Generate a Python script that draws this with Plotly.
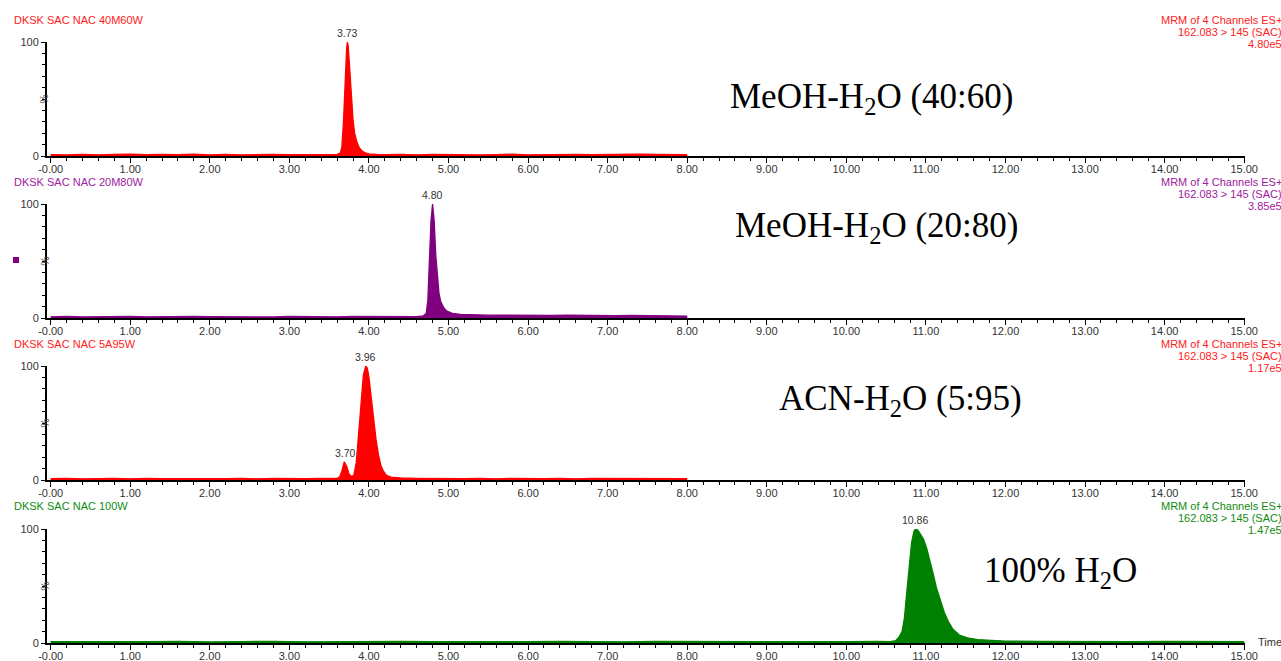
import plotly.graph_objects as go

# ---------------- data ----------------
x_tick_vals = list(range(0, 16))
x_tick_text = ["-0.00"] + ["%d.00" % v for v in range(1, 16)]

headers = ["DKSK SAC NAC 40M60W", "DKSK SAC NAC 20M80W", "DKSK SAC NAC 5A95W", "DKSK SAC NAC 100W"]
channel_line1 = "MRM of 4 Channels ES+"
channel_line2 = "162.083 > 145 (SAC)"
intensities_max = ["4.80e5", "3.85e5", "1.17e5", "1.47e5"]
solvents = ["MeOH-H<sub>2</sub>O (40:60)", "MeOH-H<sub>2</sub>O (20:80)",
            "ACN-H<sub>2</sub>O (5:95)", "100% H<sub>2</sub>O"]
colors = ["#ff0000", "#800080", "#ff0000", "#008000"]
header_colors = ["#ff1a1a", "#a020a0", "#ff1a1a", "#108c10"]

t1 = [0.00, 0.20, 0.40, 0.60, 0.80, 1.00, 1.20, 1.40, 1.60, 1.80, 2.00, 2.20, 2.40, 2.60, 2.80, 3.00, 3.20, 3.40, 3.60,
      3.64, 3.66, 3.68, 3.70, 3.72, 3.73, 3.74, 3.76, 3.78, 3.80, 3.82, 3.85, 3.88, 3.92, 3.96, 4.00, 4.10,
      4.20, 4.40, 4.60, 4.80, 5.00, 5.20, 5.40, 5.60, 5.80, 6.00, 6.20, 6.40, 6.60, 6.80, 7.00, 7.20, 7.40, 7.60, 7.80, 8.00]
i1 = [1.2, 0.9, 1.4, 1.0, 1.3, 1.6, 1.1, 1.5, 1.2, 1.7, 1.0, 1.3, 0.9, 1.2, 1.4, 1.1, 1.3, 1.2, 1.5,
      2.5, 8, 30, 65, 95, 100, 96, 75, 50, 32, 20, 12, 7, 4, 2.5, 1.8, 1.4,
      1.2, 1.5, 1.0, 1.3, 1.1, 1.4, 0.9, 1.2, 1.6, 1.0, 1.3, 1.1, 1.5, 1.2, 1.4, 1.0, 1.6, 1.3, 1.1, 1.2]

t2 = [0.00, 0.20, 0.40, 0.60, 0.80, 1.00, 1.20, 1.40, 1.60, 1.80, 2.00, 2.20, 2.40, 2.60, 2.80, 3.00, 3.20, 3.40, 3.60,
      3.80, 4.00, 4.20, 4.40, 4.60,
      4.68, 4.72, 4.74, 4.76, 4.78, 4.80, 4.82, 4.84, 4.86, 4.88, 4.90, 4.94, 4.98, 5.05, 5.15,
      5.30, 5.50, 5.70, 5.90, 6.10, 6.30, 6.50, 6.70, 6.90, 7.10, 7.30, 7.50, 7.70, 8.00]
i2 = [1.0, 1.3, 0.9, 1.2, 1.1, 1.4, 1.0, 1.2, 0.8, 1.3, 1.1, 1.0, 1.4, 1.2, 0.9, 1.3, 1.1, 1.2, 1.0,
      1.4, 1.2, 1.1, 1.3, 1.2,
      1.8, 4, 15, 45, 85, 100, 85, 55, 35, 22, 15, 9, 6, 4, 3.2,
      2.8, 2.5, 2.6, 2.3, 2.5, 2.2, 2.4, 2.1, 2.3, 2.0, 2.2, 1.9, 1.8, 1.7]

t3 = [0.00, 0.20, 0.40, 0.60, 0.80, 1.00, 1.20, 1.40, 1.60, 1.80, 2.00, 2.20, 2.40, 2.60, 2.80, 3.00, 3.20, 3.40,
      3.50, 3.60, 3.63, 3.66, 3.69, 3.72, 3.75, 3.78, 3.81, 3.84, 3.87, 3.90, 3.93, 3.96, 3.98, 4.00, 4.03, 4.06,
      4.09, 4.12, 4.15, 4.18, 4.22, 4.28, 4.40,
      4.60, 4.80, 5.00, 5.20, 5.40, 5.60, 5.80, 6.00, 6.20, 6.40, 6.60, 6.80, 7.00, 7.20, 7.40, 7.60, 7.80, 8.00]
i3 = [1.1, 1.4, 0.9, 1.2, 1.3, 1.0, 1.5, 1.2, 1.1, 1.3, 0.9, 1.2, 1.4, 1.0, 1.3, 1.1, 1.2, 1.4,
      1.3, 1.5, 2.5, 8, 16, 12, 5, 3, 4, 15, 40, 70, 92, 100, 98, 90, 72, 52,
      35, 22, 13, 8, 4, 2.5, 1.8,
      1.4, 1.2, 1.5, 1.1, 1.3, 1.0, 1.4, 1.2, 1.1, 1.5, 1.0, 1.3, 1.2, 1.4, 1.1, 1.3, 1.0, 1.2]

t4 = [0.0, 0.4, 0.8, 1.2, 1.6, 2.0, 2.4, 2.8, 3.2, 3.6, 4.0, 4.4, 4.8, 5.2, 5.6, 6.0, 6.4, 6.8, 7.2, 7.6, 8.0,
      8.4, 8.8, 9.2, 9.6, 10.0, 10.4,
      10.55, 10.62, 10.66, 10.70, 10.73, 10.76, 10.79, 10.82, 10.85, 10.87, 10.90, 10.93, 10.97, 11.01, 11.05,
      11.09, 11.13, 11.18, 11.23, 11.28, 11.34, 11.42, 11.52, 11.65, 11.80, 12.00,
      12.4, 12.8, 13.2, 13.6, 14.0, 14.4, 14.8, 15.0]
i4 = [1.2, 1.0, 1.4, 1.1, 1.3, 0.9, 1.2, 1.5, 1.0, 1.3, 1.1, 1.4, 1.2, 1.0, 1.3, 1.1, 1.5, 1.2, 1.0, 1.3, 1.2,
      1.4, 1.1, 1.3, 1.0, 1.2, 1.3,
      1.2, 2, 5, 10, 22, 45, 70, 88, 98, 100, 99, 96, 91, 83, 73,
      61, 49, 37, 27, 19, 12, 7, 4.5, 3, 2.2, 1.7,
      1.5, 1.3, 1.4, 1.2, 1.4, 1.2, 1.3, 1.2]

peak_labels = [[(3.73, 100, "3.73")], [(4.80, 100, "4.80")],
               [(3.96, 100, "3.96"), (3.70, 16, "3.70")], [(10.86, 100, "10.86")]]

series = [(t1, i1), (t2, i2), (t3, i3), (t4, i4)]
for t, v in series:
    assert len(t) == len(v), (len(t), len(v))

# ---------------- layout geometry ----------------
W, H = 1281, 661
ML, MR = 47, 36
PW = W - ML - MR
panel_rows = [(42, 156), (204, 318), (366, 480), (529, 643)]  # pixel y of 100 and 0
label_pos = [(871, 98), (876, 227), (900, 400), (1060, 572)]


def px_x(p):
    return (p - ML) / PW


def px_y(p):
    return 1 - p / H


fig = go.Figure()
layout = dict(
    width=W, height=H,
    margin=dict(l=ML, r=MR, t=0, b=0, autoexpand=False),
    paper_bgcolor="white", plot_bgcolor="white",
    showlegend=False,
    font=dict(family="Arial, Liberation Sans, sans-serif", size=11, color="#333333"),
)
annotations = []
shapes = []

for k, ((t, v), color) in enumerate(zip(series, colors)):
    n = "" if k == 0 else str(k + 1)
    xa, ya = "x" + n, "y" + n
    fig.add_trace(go.Scatter(x=t, y=v, mode="lines", line=dict(color=color, width=1.3),
                             fill="tozeroy", fillcolor=color, xaxis=xa, yaxis=ya,
                             hoverinfo="skip"))
    top, bot = panel_rows[k]
    layout["xaxis" + n] = dict(
        domain=[0, 1], anchor=ya, range=[-0.046, 15.01], automargin=False,
        tickvals=x_tick_vals, ticktext=x_tick_text,
        ticks="outside", ticklen=5, tickwidth=1, tickcolor="black",
        ticklabelstandoff=-3,
        minor=dict(dtick=0.2, tick0=0, ticks="outside", ticklen=3, tickcolor="black", tickwidth=1),
        showline=True, linewidth=2, linecolor="black",
        showgrid=False, zeroline=False, tickfont=dict(size=11, color="#333333"),
        fixedrange=True,
    )
    layout["yaxis" + n] = dict(
        domain=[px_y(bot), px_y(top)], anchor=xa, range=[0, 100], automargin=False,
        tickvals=[0, 100], ticktext=["0", "100"],
        ticks="outside", ticklen=4, tickwidth=1, tickcolor="black",
        minor=dict(dtick=10, tick0=0, ticks="outside", ticklen=3, tickcolor="black", tickwidth=1),
        showline=True, linewidth=2, linecolor="black",
        showgrid=False, zeroline=False, tickfont=dict(size=11, color="#333333"),
        fixedrange=True,
    )
    # % axis label
    annotations.append(dict(xref="paper", yref=ya, x=px_x(37), y=50, text="%", showarrow=False,
                            textangle=-90, font=dict(size=10, color="#444444")))
    # header left
    hy = 20 + 162 * k
    annotations.append(dict(xref="paper", yref="paper", x=px_x(12), y=px_y(hy), text=headers[k],
                            xanchor="left", yanchor="middle", showarrow=False,
                            font=dict(size=11, color=header_colors[k])))
    # header right (3 lines)
    for j, txt in enumerate([channel_line1, channel_line2, intensities_max[k]]):
        annotations.append(dict(xref="paper", yref="paper", x=px_x(1284), y=px_y(hy + 12 * j), text=txt,
                                xanchor="right", yanchor="middle", showarrow=False,
                                font=dict(size=11, color=header_colors[k])))
    # peak labels
    for (px_, py_, txt) in peak_labels[k]:
        annotations.append(dict(xref=xa, yref=ya, x=px_, y=py_, text=txt, showarrow=False,
                                yanchor="bottom", yshift=1, font=dict(size=10.5, color="#333333")))
    # solvent label
    lx, ly = label_pos[k]
    annotations.append(dict(xref="paper", yref="paper", x=px_x(lx), y=px_y(ly), text=solvents[k],
                            xanchor="center", yanchor="middle", showarrow=False,
                            font=dict(family="Liberation Serif, Times New Roman, serif", size=35, color="black")))

annotations.append(dict(xref="paper", yref="paper", x=px_x(1256), y=px_y(642), text="Time",
                        xanchor="left", yanchor="middle", showarrow=False,
                        font=dict(size=11, color="#333333")))
shapes.append(dict(type="rect", xref="paper", yref="paper", x0=px_x(13), x1=px_x(19),
                   y0=px_y(263), y1=px_y(257), fillcolor="#800080", line=dict(width=0)))

layout["annotations"] = annotations
layout["shapes"] = shapes
fig.update_layout(**layout)
fig.write_html("out.html", config={"displayModeBar": False})
